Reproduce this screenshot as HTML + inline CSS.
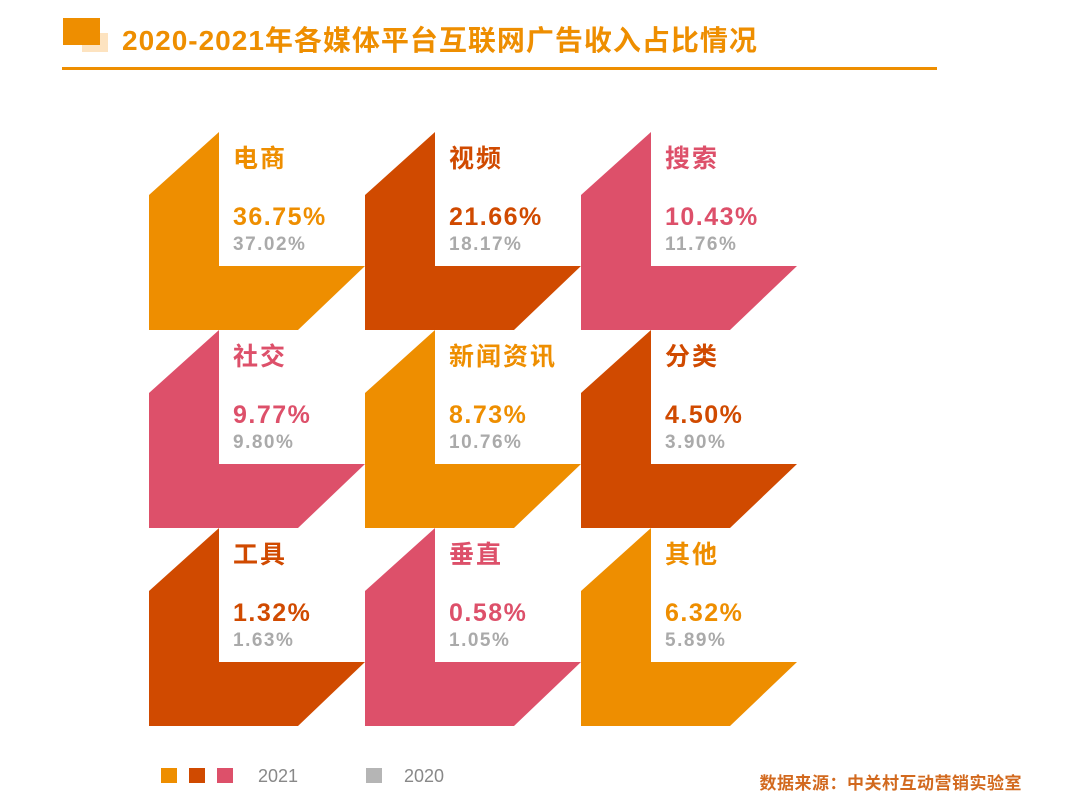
<!DOCTYPE html>
<html><head><meta charset="utf-8">
<style>
html,body{margin:0;padding:0;background:#fff;}
body{width:1080px;height:807px;position:relative;overflow:hidden;font-family:"Liberation Sans","Noto Sans CJK SC",sans-serif;}
</style></head>
<body>
<svg id="chart" width="1080" height="807" viewBox="0 0 1080 807" xmlns="http://www.w3.org/2000/svg" style="position:absolute;left:0;top:0">
  <rect x="82" y="33" width="26" height="19" fill="#FDE3C0"/>
  <rect x="63" y="18" width="37" height="27" fill="#EE8E00"/>
  <text x="122" y="50" font-size="28" font-weight="bold" fill="#EE8E00" letter-spacing="1" font-family="Liberation Sans, Noto Sans CJK SC, sans-serif">2020-2021年各媒体平台互联网广告收入占比情况</text>
  <rect x="62" y="67" width="875" height="3" fill="#EE8E00"/>
  <g id="tiles"></g>
  <rect x="161" y="768" width="16" height="15" fill="#EE8E00"/>
  <rect x="189" y="768" width="16" height="15" fill="#D04A00"/>
  <rect x="217" y="768" width="16" height="15" fill="#DD506A"/>
  <text x="258" y="782" font-size="18" fill="#888">2021</text>
  <rect x="366" y="768" width="16" height="15" fill="#B5B5B5"/>
  <text x="404" y="782" font-size="18" fill="#888">2020</text>
  <text x="1022" y="789" font-size="17" font-weight="bold" fill="#D2691E" letter-spacing="0.5" text-anchor="end">数据来源：中关村互动营销实验室</text>
</svg>
<script>
const categories = ["电商","视频","搜索","社交","新闻资讯","分类","工具","垂直","其他"];
const values2021 = [36.75,21.66,10.43,9.77,8.73,4.50,1.32,0.58,6.32];
const values2020 = [37.02,18.17,11.76,9.80,10.76,3.90,1.63,1.05,5.89];
const colorKeys = ["o","d","p","p","o","d","d","p","o"];
const palette = {o:"#EE8E00", d:"#D04A00", p:"#DD506A"};
const NS = "http://www.w3.org/2000/svg";
const g = document.getElementById("tiles");
function tileX(i){ return 149 + (i%3)*216; }
function tileY(i){ return 132 + Math.floor(i/3)*198; }
categories.forEach((cat,i)=>{
  const x = tileX(i), y = tileY(i), c = palette[colorKeys[i]];
  const poly = document.createElementNS(NS,"polygon");
  poly.setAttribute("points",[[x,y+63],[x+70,y],[x+70,y+134],[x+216,y+134],[x+149,y+198],[x,y+198]].map(p=>p.join(",")).join(" "));
  poly.setAttribute("fill",c);
  
  
  g.appendChild(poly);
  const t1 = document.createElementNS(NS,"text");
  t1.setAttribute("x",x+84); t1.setAttribute("y",y+35);
  t1.setAttribute("font-size","25"); t1.setAttribute("font-weight","bold"); t1.setAttribute("fill",c);
  t1.setAttribute("letter-spacing","2");
  t1.textContent = cat;
  
  
  g.appendChild(t1);
  const t2 = document.createElementNS(NS,"text");
  t2.setAttribute("x",x+84); t2.setAttribute("y",y+93);
  t2.setAttribute("font-size","25"); t2.setAttribute("font-weight","bold"); t2.setAttribute("fill",c);
  t2.setAttribute("letter-spacing","1.5");
  t2.textContent = values2021[i].toFixed(2)+"%";
  
  
  g.appendChild(t2);
  const t3 = document.createElementNS(NS,"text");
  t3.setAttribute("x",x+84); t3.setAttribute("y",y+118);
  t3.setAttribute("font-size","19"); t3.setAttribute("font-weight","bold"); t3.setAttribute("fill","#AAAAAA");
  t3.setAttribute("letter-spacing","1.5");
  t3.textContent = values2020[i].toFixed(2)+"%";
  
  
  g.appendChild(t3);
});
</script>
</body></html>
